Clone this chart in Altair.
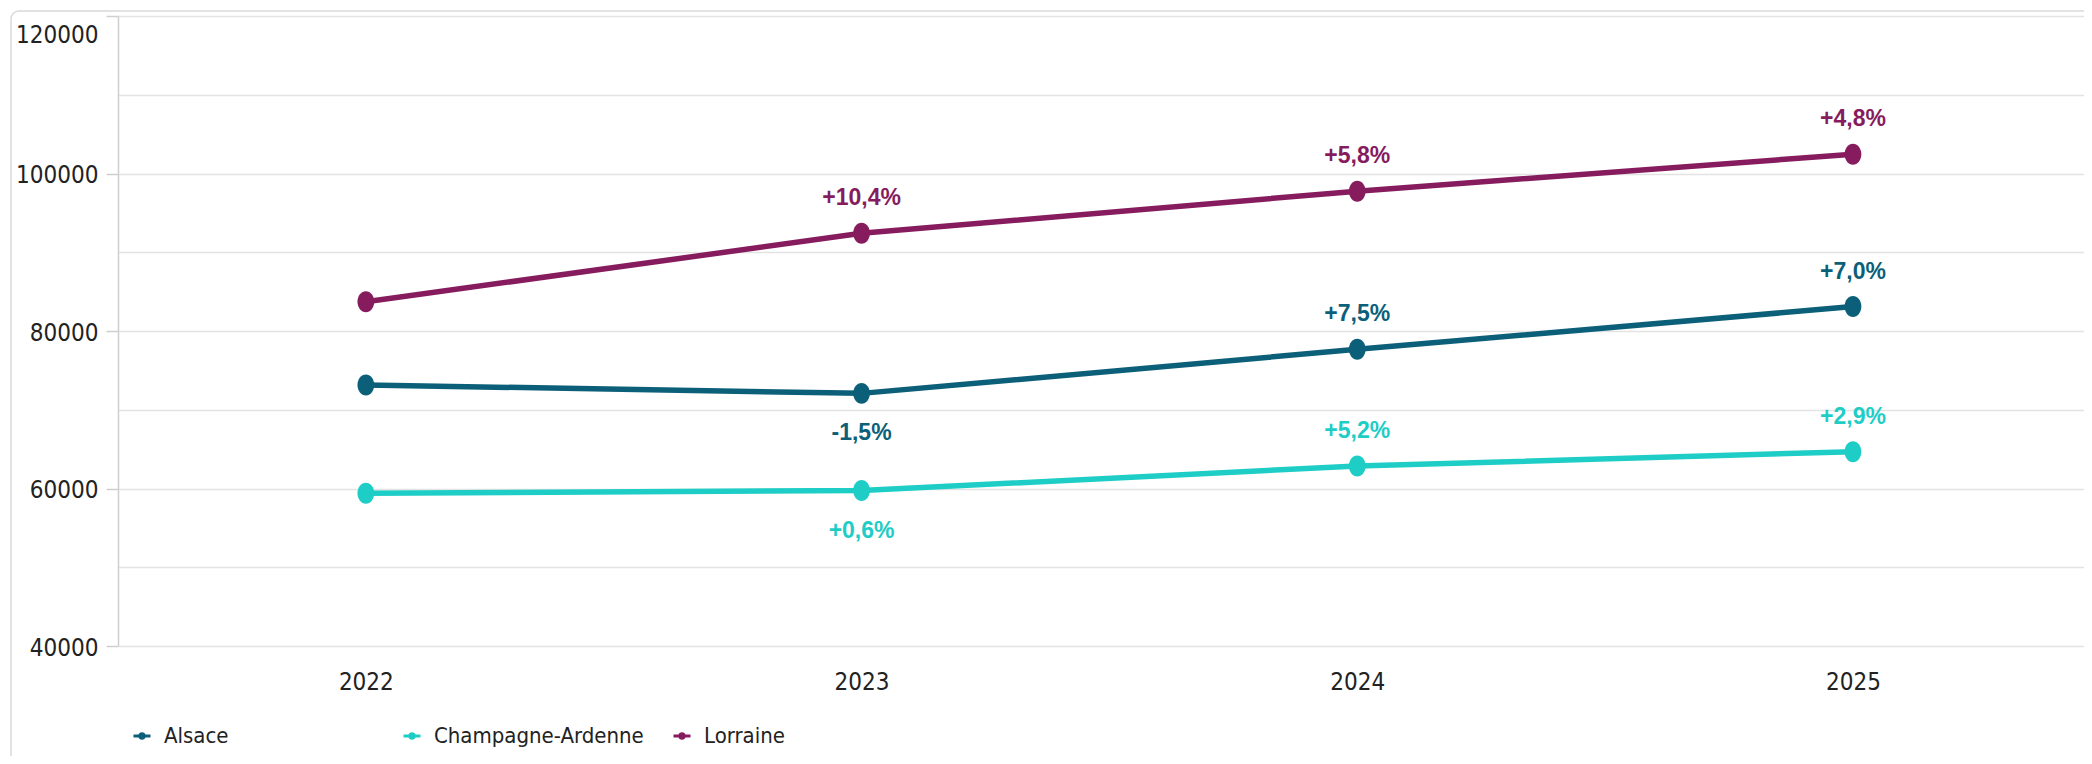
import altair as alt
import pandas as pd

# ---- data ----
years = [2022, 2023, 2024, 2025]
regions = ["Alsace", "Champagne-Ardenne", "Lorraine"]
alsace = [73150, 72080, 77670, 83100]
champagne = [59400, 59740, 62850, 64680]
lorraine = [83720, 92400, 97760, 102450]
alsace_change = [None, -1.5, 7.5, 7.0]
champagne_change = [None, 0.6, 5.2, 2.9]
lorraine_change = [None, 10.4, 5.8, 4.8]
y_ticks = [40000, 50000, 60000, 70000, 80000, 90000, 100000, 110000, 120000]

colors = ["#0c5f78", "#1ecdc6", "#861c5e"]

rows = []
for name, vals, chg in zip(regions, [alsace, champagne, lorraine],
                           [alsace_change, champagne_change, lorraine_change]):
    for yr, v, c in zip(years, vals, chg):
        rows.append({
            "year": yr, "region": name, "value": v, "change": c,
            "label": "" if c is None else f"{c:+.1f}%".replace(".", ","),
        })
df = pd.DataFrame(rows)

W, H = 1966, 630
AXIS_FONT = "Liberation Sans Narrow, DejaVu Sans Condensed, sans-serif"
LABEL_FONT = "Liberation Sans, Arial, sans-serif"

legend_symbol = ("M-1,-0.17L1,-0.17L1,0.17L-1,0.17Z "
                 "M-0.45,0A0.45,0.45 0 1,1 0.45,0A0.45,0.45 0 1,1 -0.45,0Z")
point_shape = "M0,-1A0.8,1 0 1,1 0,1A0.8,1 0 1,1 0,-1Z"

color = alt.Color(
    "region:N", scale=alt.Scale(domain=regions, range=colors),
    legend=alt.Legend(orient="none", legendX=13, legendY=709,
                      direction="horizontal", columns=3, gridAlign="all",
                      title=None, symbolType=legend_symbol, symbolSize=289,
                      symbolStrokeWidth=0, symbolOpacity=1,
                      labelFont=AXIS_FONT, labelFontSize=22, labelLimit=500,
                      labelColor="#222222", labelOffset=11,
                      columnPadding=27, padding=0))

x = alt.X("year:Q",
          scale=alt.Scale(domain=[2021.5, 2021.5 + W / 495.7], nice=False, zero=False),
          axis=alt.Axis(values=years, format="d", title=None, domain=False, ticks=False,
                        grid=False, labelPadding=24, labelFontSize=24, labelFont=AXIS_FONT,
                        labelColor="#222222", labelFlush=False))
y = alt.Y("value:Q",
          scale=alt.Scale(domain=[40000, 120000], nice=False, zero=False),
          axis=alt.Axis(values=y_ticks, format="d", title=None, grid=True,
                        gridColor="#e3e3e3", gridWidth=1.6,
                        domainColor="#cfcfcf", domainWidth=1.5,
                        tickColor="#cfcfcf", tickSize=12, tickWidth=1.5,
                        tickOpacity={"condition": {"test": "datum.value % 20000 === 0", "value": 1}, "value": 0},
                        labelExpr="datum.value % 20000 === 0 ? datum.label : ''",
                        labelOverlap=False, labelFlush=False,
                        labelBaseline={"condition": {"test": "datum.value === 120000", "value": "top"}, "value": "middle"},
                        labelOffset={"condition": {"test": "datum.value === 120000", "value": 7}, "value": 2},
                        labelFont=AXIS_FONT, labelFontSize=24, labelColor="#222222",
                        labelPadding=8))

base = alt.Chart(df)

frame = alt.Chart(pd.DataFrame({"f": [0]})).mark_rect(
    fill=None, stroke="#d9d9d9", strokeWidth=1.5, cornerRadius=8
).encode(x=alt.value(-107), x2=alt.value(W + 60), y=alt.value(-5), y2=alt.value(H + 300))

lines = base.mark_line(strokeWidth=5.5).encode(x=x, y=y, color=color, detail="region:N")

points = base.mark_point(filled=True, opacity=1, size=440, shape=point_shape).encode(
    x=x, y=y, color=color)

above = base.transform_filter("isValid(datum.change) && datum.change >= 1").mark_text(
    dy=-35, fontWeight="bold", fontSize=23, font=LABEL_FONT, baseline="middle"
).encode(x=x, y=y, text="label:N", color=color)

below = base.transform_filter("isValid(datum.change) && datum.change < 1").mark_text(
    dy=40, fontWeight="bold", fontSize=23, font=LABEL_FONT, baseline="middle"
).encode(x=x, y=y, text="label:N", color=color)

chart = alt.layer(frame, lines, points, above, below).properties(
    width=W, height=H,
    autosize=alt.AutoSizeParams(type="none"),
    padding={"left": 110, "top": 8, "right": 0, "bottom": 110},
    background="white",
).configure_view(strokeWidth=0).configure_legend(symbolType=legend_symbol)

chart.save("out.html", embed_options={"renderer": "svg", "actions": False})
